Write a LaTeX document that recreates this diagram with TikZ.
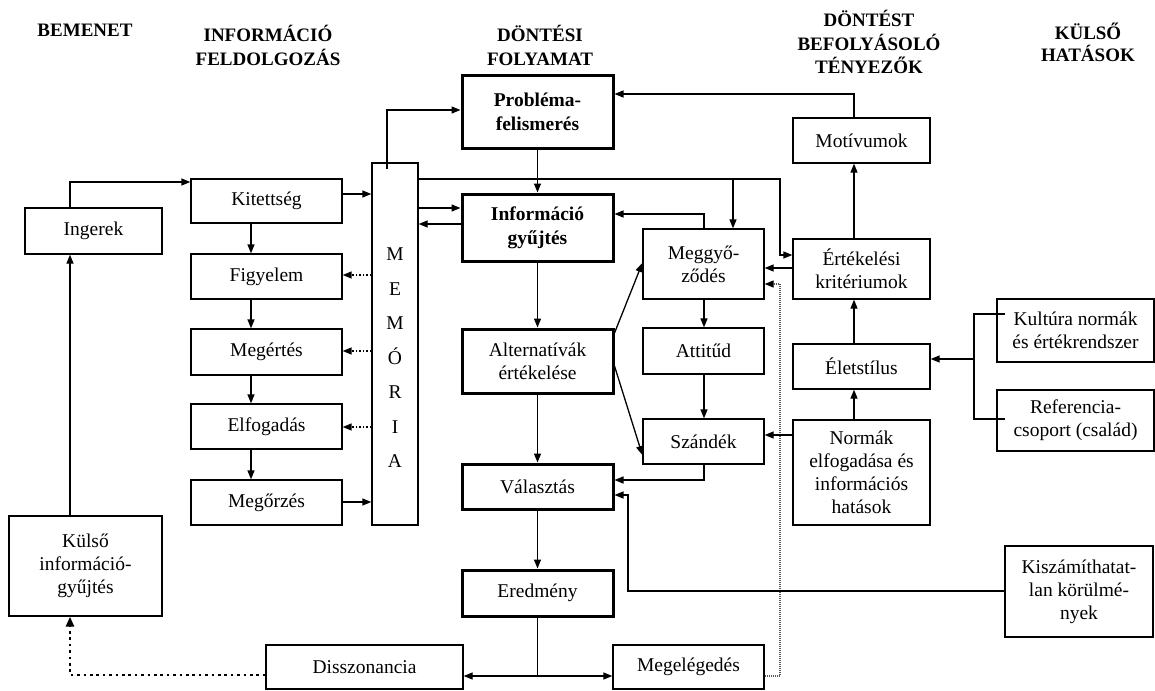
\documentclass[tikz,border=0pt]{standalone}
\usepackage{fontspec}
\setmainfont{Liberation Serif}
\usetikzlibrary{arrows.meta}
\begin{document}
\begin{tikzpicture}[x=1pt,y=-1pt,
  box/.style={draw, line width=1.3pt, inner sep=0pt, align=center, font=\fontsize{19.5}{23}\selectfont},
  tbox/.style={box, line width=3pt},
  hdr/.style={align=center, font=\fontsize{19}{24}\selectfont\bfseries},
  ln/.style={line width=1.3pt},
  arr/.style={line width=1.3pt, -{Triangle[length=9pt,width=7pt]}},
  dsm/.style={line width=1.4pt, dash pattern=on 1.6pt off 1.9pt, -{Triangle[length=9pt,width=7pt]}},
  dthick/.style={line width=2.6pt, dash pattern=on 2.6pt off 3.8pt, -{Triangle[length=10pt,width=8pt]}},
  dfine/.style={line width=1.2pt, gray!70!black, dash pattern=on 1pt off 1pt, -{Triangle[length=9pt,width=7pt,color=black]}},
]
\useasboundingbox (0,0) rectangle (1155,690);

% headers
\node[hdr] (h1) at (85,30) {BEMENET};
\node[hdr] (h2) at (268,45.5) {INFORMÁCIÓ\\FELDOLGOZÁS};
\node[hdr] (h3) at (540,45.5) {DÖNTÉSI\\FOLYAMAT};
\node[hdr, font=\fontsize{19}{23.5}\selectfont\bfseries] (h4) at (869,42) {DÖNTÉST\\BEFOLYÁSOLÓ\\TÉNYEZŐK};
\node[hdr, font=\fontsize{19}{22}\selectfont\bfseries] (h5) at (1088,42.5) {KÜLSŐ\\HATÁSOK};

% left column
\node[box, minimum width=137pt, minimum height=46pt] (ing) at (93.5,231) {Ingerek};
\node[box, minimum width=153pt, minimum height=100pt] (kul) at (85.5,566) {Külső\\információ-\\gyűjtés};

% information processing
\node[box, minimum width=151pt, minimum height=44pt] (kit) at (266.5,201) {Kitettség};
\node[box, minimum width=151pt, minimum height=45pt] (fig) at (266.5,276.5) {Figyelem};
\node[box, minimum width=151pt, minimum height=46pt] (meg) at (266.5,352) {Megértés};
\node[box, minimum width=151pt, minimum height=45pt] (elf) at (266.5,426.5) {Elfogadás};
\node[box, minimum width=151pt, minimum height=45pt] (mor) at (266.5,502.5) {Megőrzés};
\node[box, minimum width=46pt, minimum height=362pt] (mem) at (395,344) {};
\node[align=center, font=\fontsize{19.5}{34.5}\selectfont, inner sep=0pt] (memtxt) at (395,358) {M\\E\\M\\Ó\\R\\I\\A};

% decision process
\node[tbox, font=\fontsize{19.5}{24}\selectfont\bfseries, minimum width=151pt, minimum height=72pt] (pro) at (537.5,112) {Probléma-\\felismerés};
\node[tbox, font=\fontsize{19.5}{24}\selectfont\bfseries, minimum width=151pt, minimum height=67pt] (ig) at (537.5,227.5) {Információ\\gyűjtés};
\node[tbox, minimum width=151pt, minimum height=64pt] (alt) at (537.5,361) {Alternatívák\\értékelése};
\node[tbox, minimum width=151pt, minimum height=45pt] (val) at (537.5,486.5) {Választás};
\node[tbox, minimum width=151pt, minimum height=46pt] (ere) at (537.5,593) {Eredmény};
\node[box, minimum width=197pt, minimum height=44pt] (dis) at (364.5,667) {Disszonancia};
\node[box, minimum width=151pt, minimum height=44pt] (mgl) at (688.5,667) {Megelégedés};

% middle column
\node[box, minimum width=121pt, minimum height=70pt] (mgy) at (703.5,264) {Meggyő-\\ződés};
\node[box, minimum width=121pt, minimum height=46pt] (att) at (703.5,351) {Attitűd};
\node[box, minimum width=121pt, minimum height=45pt] (sza) at (703.5,441.5) {Szándék};

% influencing factors
\node[box, minimum width=137pt, minimum height=45pt] (mot) at (861.5,140.5) {Motívumok};
\node[box, minimum width=137pt, minimum height=60pt] (ert) at (861.5,269) {Értékelési\\kritériumok};
\node[box, minimum width=137pt, minimum height=45pt] (ele) at (861.5,366.5) {Életstílus};
\node[box, minimum width=137pt, minimum height=105pt] (nor) at (861.5,472.5) {Normák\\elfogadása és\\információs\\hatások};

% external
\node[box, minimum width=157pt, minimum height=63pt] (kult) at (1075.5,330.5) {Kultúra normák\\és értékrendszer};
\node[box, minimum width=157pt, minimum height=61pt] (ref) at (1075.5,420.5) {Referencia-\\csoport (család)};
\node[box, minimum width=148pt, minimum height=91pt] (kisz) at (1079,591.5) {Kiszámíthatat-\\lan körülmé-\\nyek};

% connectors: left
\draw[arr] (70,0 |- ing.north) -- (70,182) -- (kit.west |- 0,182);
\draw[arr] (70,0 |- kul.north) -- (70,0 |- ing.south);
\draw[dthick] (dis.west |- 0,675) -- (70,675) -- (70,0 |- kul.south);

% information processing chain
\draw[arr] (kit.east |- 0,194) -- (mem.west |- 0,194);
\draw[arr] (251,0 |- kit.south) -- (251,0 |- fig.north);
\draw[arr] (251,0 |- fig.south) -- (251,0 |- meg.north);
\draw[arr] (251,0 |- meg.south) -- (251,0 |- elf.north);
\draw[arr] (251,0 |- elf.south) -- (251,0 |- mor.north);
\draw[dsm] (mem.west |- 0,275) -- (fig.east |- 0,275);
\draw[dsm] (mem.west |- 0,351) -- (meg.east |- 0,351);
\draw[dsm] (mem.west |- 0,427) -- (elf.east |- 0,427);
\draw[arr] (mor.east |- 0,502) -- (mem.west |- 0,502);

% memory to decision process
\draw[arr] (387,169) -- (387,110) -- (pro.west |- 0,110);
\draw[arr] (mem.east |- 0,208) -- (ig.west |- 0,208);
\draw[arr] (ig.west |- 0,224) -- (mem.east |- 0,224);
\draw[arr] (mem.east |- 0,179) -- (780,179) -- (780,255) -- (ert.west |- 0,255);
\draw[arr] (733,179) -- (733,0 |- mgy.north);

% decision chain
\draw[arr] (pro.south) -- (ig.north);
\draw[arr] (ig.south) -- (alt.north);
\draw[arr] (alt.south) -- (val.north);
\draw[arr] (val.south) -- (ere.north);
\draw[ln] (ere.south) -- (537.5,676);
\draw[arr] (537.5,676) -- (dis.east |- 0,676);
\draw[arr] (537.5,676) -- (mgl.west |- 0,676);
\draw[dfine] (mgl.east |- 0,676) -- (780,676) -- (780,284) -- (mgy.east |- 0,284);

% middle column
\draw[arr] (704,0 |- mgy.north) -- (704,214) -- (ig.east |- 0,214);
\draw[arr] (alt.east |- 0,333) -- (mgy.west |- 0,263);
\draw[arr] (alt.east |- 0,366) -- (sza.west |- 0,455);
\draw[arr] (704,0 |- mgy.south) -- (704,0 |- att.north);
\draw[arr] (704,0 |- att.south) -- (704,0 |- sza.north);
\draw[arr] (704,0 |- sza.south) -- (704,480) -- (val.east |- 0,480);
\draw[arr] (ert.west |- 0,268) -- (mgy.east |- 0,268);

% influencing factors
\draw[arr] (nor.west |- 0,435) -- (sza.east |- 0,435);
\draw[arr] (854,0 |- nor.north) -- (854,0 |- ele.south);
\draw[arr] (854,0 |- ele.north) -- (854,0 |- ert.south);
\draw[arr] (854,0 |- ert.north) -- (854,0 |- mot.south);
\draw[arr] (854,0 |- mot.north) -- (854,94) -- (pro.east |- 0,94);
\draw[arr] (kisz.west |- 0,591) -- (628,591) -- (628,495) -- (val.east |- 0,495);

% external bracket
\draw[ln] (1005,314) -- (974,314) -- (974,419) -- (1005,419);
\draw[arr] (974,359) -- (ele.east |- 0,359);
\end{tikzpicture}
\end{document}
